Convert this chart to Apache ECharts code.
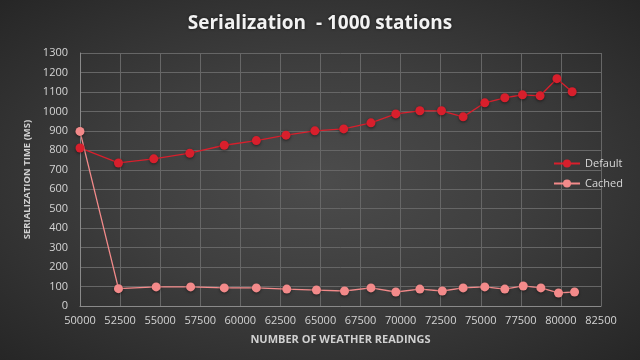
<!DOCTYPE html>
<html><head><meta charset="utf-8">
<script src="https://cdn.jsdelivr.net/npm/echarts@6/dist/echarts.min.js"></script>
<style>html,body{margin:0;padding:0;}#c{width:640px;height:360px;background:radial-gradient(ellipse at 50% 50%, #4c4c4c 0%, #3e3e3e 45%, #262626 100%);}</style>
</head><body><div id="c"></div>
<script>
const seriesNames = ['Default', 'Cached'];
const defaultX = [50000,52400,54600,56850,59000,61000,62850,64650,66450,68150,69700,71200,72550,73900,75250,76500,77600,78700,79750,80700];
const defaultY = [812,735,756,785,826,850,878,900,910,941,987,1003,1003,972,1044,1070,1085,1080,1168,1101];
const cachedX = [50000,52400,54750,56900,59000,61000,62900,64750,66500,68150,69700,71200,72600,73900,75250,76500,77650,78750,79850,80850];
const cachedY = [897,89,98,98,93,93,87,82,77,93,72,87,77,93,98,87,103,93,67,72];
const xTicks = {min: 50000, max: 82500, interval: 2500};
const yTicks = {min: 0, max: 1300, interval: 100};

const chart = echarts.init(document.getElementById('c'), null, {renderer: 'canvas'});
const font = 'Open Sans, Liberation Sans, sans-serif';
const pair = (xs, ys) => xs.map((x, i) => [x, ys[i]]);
chart.setOption({
  backgroundColor: 'transparent',
  animation: false,
  title: {
    text: 'Serialization  - 1000 stations',
    left: 'center', top: 9,
    textStyle: {color: '#f2f2f2', fontSize: 19, fontWeight: 'bold', fontFamily: 'Open Sans, sans-serif',
      textShadowColor: 'rgba(0,0,0,0.6)', textShadowBlur: 3}
  },
  legend: {
    orient: 'vertical', left: 548, top: 153, itemGap: 9,
    itemWidth: 26, itemHeight: 10,
    textStyle: {color: '#d8d8d8', fontSize: 11, fontFamily: font},
    data: seriesNames
  },
  grid: {left: 80, right: 39, top: 53, bottom: 54},
  xAxis: {
    type: 'value', min: xTicks.min, max: xTicks.max, interval: xTicks.interval,
    name: 'NUMBER OF WEATHER READINGS', nameLocation: 'middle', nameGap: 28,
    nameTextStyle: {color: '#d0d0d0', fontSize: 11, fontWeight: 'bold', fontFamily: font},
    axisLine: {lineStyle: {color: '#8a8a8a'}},
    axisTick: {show: false},
    axisLabel: {color: '#d4d4d4', fontSize: 11, fontFamily: font, margin: 9, formatter: v => String(v)},
    splitLine: {lineStyle: {color: '#666666'}}
  },
  yAxis: {
    type: 'value', min: yTicks.min, max: yTicks.max, interval: yTicks.interval,
    name: 'SERIALIZATION TIME (MS)', nameLocation: 'middle', nameGap: 41, nameRotate: 90,
    nameTextStyle: {color: '#d0d0d0', fontSize: 9.5, fontWeight: 'bold', fontFamily: font},
    axisLine: {show: true, lineStyle: {color: '#8a8a8a'}},
    axisTick: {show: false},
    axisLabel: {color: '#d4d4d4', fontSize: 11, fontFamily: font, margin: 12, formatter: v => String(v)},
    splitLine: {lineStyle: {color: '#666666'}}
  },
  series: [
    {
      name: seriesNames[0], type: 'line', data: pair(defaultX, defaultY),
      symbol: 'circle', symbolSize: 9,
      itemStyle: {color: '#d81f2c', shadowColor: 'rgba(0,0,0,0.5)', shadowBlur: 3, shadowOffsetY: 1},
      lineStyle: {color: '#d81f2c', width: 1.3}
    },
    {
      name: seriesNames[1], type: 'line', data: pair(cachedX, cachedY),
      symbol: 'circle', symbolSize: 9,
      itemStyle: {color: '#f38a8a', shadowColor: 'rgba(0,0,0,0.5)', shadowBlur: 3, shadowOffsetY: 1},
      lineStyle: {color: '#f38a8a', width: 1.3}
    }
  ]
});
</script></body></html>
